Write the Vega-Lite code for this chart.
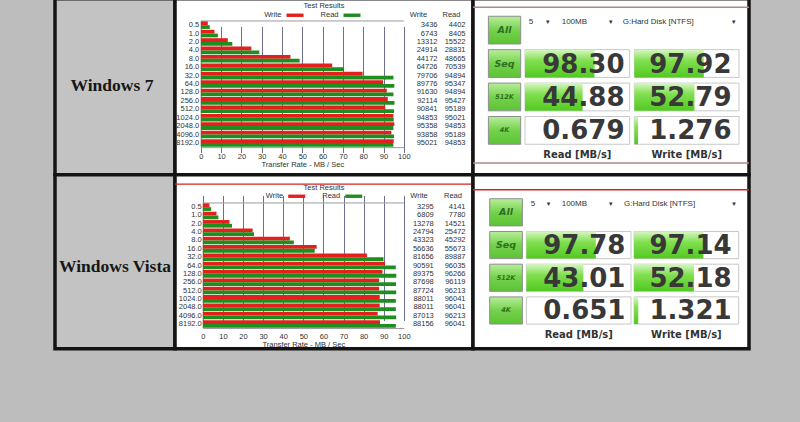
{
  "$schema": "https://vega.github.io/schema/vega-lite/v6.json",
  "background": "#bdbdbd",
  "padding": {"left": 53, "top": -3.25, "right": 49.5, "bottom": 71.75},
  "datasets": {
    "labels": [{"os": "Windows 7"}, {"os": "Windows Vista"}],
    "atto": [
      {"os": "Windows 7", "size": "0.5", "series": "Write", "value": 3436}, {"os": "Windows 7", "size": "0.5", "series": "Read", "value": 4402},
      {"os": "Windows 7", "size": "1.0", "series": "Write", "value": 6743}, {"os": "Windows 7", "size": "1.0", "series": "Read", "value": 8405},
      {"os": "Windows 7", "size": "2.0", "series": "Write", "value": 13312}, {"os": "Windows 7", "size": "2.0", "series": "Read", "value": 15522},
      {"os": "Windows 7", "size": "4.0", "series": "Write", "value": 24914}, {"os": "Windows 7", "size": "4.0", "series": "Read", "value": 28831},
      {"os": "Windows 7", "size": "8.0", "series": "Write", "value": 44172}, {"os": "Windows 7", "size": "8.0", "series": "Read", "value": 48665},
      {"os": "Windows 7", "size": "16.0", "series": "Write", "value": 64726}, {"os": "Windows 7", "size": "16.0", "series": "Read", "value": 70539},
      {"os": "Windows 7", "size": "32.0", "series": "Write", "value": 79706}, {"os": "Windows 7", "size": "32.0", "series": "Read", "value": 94894},
      {"os": "Windows 7", "size": "64.0", "series": "Write", "value": 89776}, {"os": "Windows 7", "size": "64.0", "series": "Read", "value": 95347},
      {"os": "Windows 7", "size": "128.0", "series": "Write", "value": 91630}, {"os": "Windows 7", "size": "128.0", "series": "Read", "value": 94894},
      {"os": "Windows 7", "size": "256.0", "series": "Write", "value": 92114}, {"os": "Windows 7", "size": "256.0", "series": "Read", "value": 95427},
      {"os": "Windows 7", "size": "512.0", "series": "Write", "value": 90841}, {"os": "Windows 7", "size": "512.0", "series": "Read", "value": 95189},
      {"os": "Windows 7", "size": "1024.0", "series": "Write", "value": 94853}, {"os": "Windows 7", "size": "1024.0", "series": "Read", "value": 95021},
      {"os": "Windows 7", "size": "2048.0", "series": "Write", "value": 95358}, {"os": "Windows 7", "size": "2048.0", "series": "Read", "value": 94853},
      {"os": "Windows 7", "size": "4096.0", "series": "Write", "value": 93858}, {"os": "Windows 7", "size": "4096.0", "series": "Read", "value": 95189},
      {"os": "Windows 7", "size": "8192.0", "series": "Write", "value": 95021}, {"os": "Windows 7", "size": "8192.0", "series": "Read", "value": 94853},
      {"os": "Windows Vista", "size": "0.5", "series": "Write", "value": 3295}, {"os": "Windows Vista", "size": "0.5", "series": "Read", "value": 4141},
      {"os": "Windows Vista", "size": "1.0", "series": "Write", "value": 6809}, {"os": "Windows Vista", "size": "1.0", "series": "Read", "value": 7780},
      {"os": "Windows Vista", "size": "2.0", "series": "Write", "value": 13278}, {"os": "Windows Vista", "size": "2.0", "series": "Read", "value": 14521},
      {"os": "Windows Vista", "size": "4.0", "series": "Write", "value": 24794}, {"os": "Windows Vista", "size": "4.0", "series": "Read", "value": 25472},
      {"os": "Windows Vista", "size": "8.0", "series": "Write", "value": 43323}, {"os": "Windows Vista", "size": "8.0", "series": "Read", "value": 45292},
      {"os": "Windows Vista", "size": "16.0", "series": "Write", "value": 56636}, {"os": "Windows Vista", "size": "16.0", "series": "Read", "value": 55673},
      {"os": "Windows Vista", "size": "32.0", "series": "Write", "value": 81656}, {"os": "Windows Vista", "size": "32.0", "series": "Read", "value": 89887},
      {"os": "Windows Vista", "size": "64.0", "series": "Write", "value": 90591}, {"os": "Windows Vista", "size": "64.0", "series": "Read", "value": 96035},
      {"os": "Windows Vista", "size": "128.0", "series": "Write", "value": 89375}, {"os": "Windows Vista", "size": "128.0", "series": "Read", "value": 96266},
      {"os": "Windows Vista", "size": "256.0", "series": "Write", "value": 87698}, {"os": "Windows Vista", "size": "256.0", "series": "Read", "value": 96119},
      {"os": "Windows Vista", "size": "512.0", "series": "Write", "value": 87724}, {"os": "Windows Vista", "size": "512.0", "series": "Read", "value": 96213},
      {"os": "Windows Vista", "size": "1024.0", "series": "Write", "value": 88011}, {"os": "Windows Vista", "size": "1024.0", "series": "Read", "value": 96041},
      {"os": "Windows Vista", "size": "2048.0", "series": "Write", "value": 88011}, {"os": "Windows Vista", "size": "2048.0", "series": "Read", "value": 96041},
      {"os": "Windows Vista", "size": "4096.0", "series": "Write", "value": 87013}, {"os": "Windows Vista", "size": "4096.0", "series": "Read", "value": 96213},
      {"os": "Windows Vista", "size": "8192.0", "series": "Write", "value": 88156}, {"os": "Windows Vista", "size": "8192.0", "series": "Read", "value": 96041}
    ],
    "cdm": [
      {"os": "Windows 7", "test": "Seq", "metric": "Read", "value": 98.30}, {"os": "Windows 7", "test": "Seq", "metric": "Write", "value": 97.92},
      {"os": "Windows 7", "test": "512K", "metric": "Read", "value": 44.88}, {"os": "Windows 7", "test": "512K", "metric": "Write", "value": 52.79},
      {"os": "Windows 7", "test": "4K", "metric": "Read", "value": 0.679}, {"os": "Windows 7", "test": "4K", "metric": "Write", "value": 1.276},
      {"os": "Windows Vista", "test": "Seq", "metric": "Read", "value": 97.78}, {"os": "Windows Vista", "test": "Seq", "metric": "Write", "value": 97.14},
      {"os": "Windows Vista", "test": "512K", "metric": "Read", "value": 43.01}, {"os": "Windows Vista", "test": "512K", "metric": "Write", "value": 52.18},
      {"os": "Windows Vista", "test": "4K", "metric": "Read", "value": 0.651}, {"os": "Windows Vista", "test": "4K", "metric": "Write", "value": 1.321}
    ],
    "buttons": [{"test": "All"}, {"test": "Seq"}, {"test": "512K"}, {"test": "4K"}],
    "cdmHeader": [
      {"os": "Windows 7", "runs": "5", "size": "100MB", "drive": "G:Hard Disk [NTFS]"},
      {"os": "Windows Vista", "runs": "5", "size": "100MB", "drive": "G:Hard Disk [NTFS]"}
    ]
  },
  "columns": 3,
  "spacing": 0,
  "bounds": "flush",
  "align": "each",
  "resolve": {"scale": {"x": "independent", "y": "independent", "color": "independent"}, "legend": {"color": "independent"}, "axis": {"x": "independent", "y": "independent"}},
  "concat": [
    {
      "width": 120, "height": 176,
      "view": {"fill": "#c3c3c3", "stroke": "#141414", "strokeWidth": 3.5},
      "data": {"name": "labels"},
      "transform": [{"filter": "datum.os == 'Windows 7'"}],
      "mark": {"type": "text", "font": "Liberation Serif", "fontWeight": "bold", "fontSize": 17.5, "color": "#161616", "dy": -0.5, "dx": -3},
      "encoding": {"text": {"field": "os", "type": "nominal"}}
    },
    {
      "width": 298, "height": 176,
      "view": {"fill": "#ffffff", "stroke": "#141414", "strokeWidth": 3.5},
      "title": {"text": "Test Results", "anchor": "middle", "offset": -15, "baseline": "middle", "fontSize": 7.5, "font": "Liberation Sans", "fontWeight": "normal", "color": "#333333"},
      "data": {"name": "atto"},
      "transform": [{"filter": "datum.os == 'Windows 7'"}],
      "layer": [
        {
          "transform": [{"filter": "datum.size == '0.5' && datum.series == 'Write'"}],
          "mark": {"type": "rule", "color": "#9a9a9a", "strokeWidth": 1},
          "encoding": {
            "x": {"datum": 0, "type": "quantitative", "scale": {"domain": [0, 100000], "range": [25.8, 228.8], "nice": false, "zero": false},
              "axis": {"values": [0, 10000, 20000, 30000, 40000, 50000, 60000, 70000, 80000, 90000, 100000], "labelExpr": "datum.value / 1000", "grid": true, "gridColor": "#6e6e8e", "gridWidth": 1, "domainColor": "#9a9a9a", "ticks": false, "offset": -27.6, "labelPadding": 5, "labelFontSize": 7.5, "labelColor": "#333333", "labelFlush": false, "labelOverlap": false, "title": "Transfer Rate - MB / Sec", "titleFontSize": 7.5, "titleFontWeight": "normal", "titleColor": "#333333", "titlePadding": 1}},
            "x2": {"datum": 100000},
            "y": {"field": "size", "type": "ordinal", "bandPosition": -0.055, "scale": {"domain": ["0.5","1.0","2.0","4.0","8.0","16.0","32.0","64.0","128.0","256.0","512.0","1024.0","2048.0","4096.0","8192.0"], "range": [22.2, 148.4], "paddingInner": 0.1, "paddingOuter": 0.05},
              "axis": {"orient": "left", "offset": -25.8, "labelPadding": 2, "domainColor": "#9a9a9a", "ticks": false, "grid": false, "labelFontSize": 7.5, "labelColor": "#333333", "title": null}}
          }
        },
        {
          "mark": {"type": "bar"},
          "encoding": {
            "x": {"field": "value", "type": "quantitative", "scale": {"domain": [0, 100000], "range": [25.8, 228.8], "nice": false, "zero": false},
              "axis": {"values": [0, 10000, 20000, 30000, 40000, 50000, 60000, 70000, 80000, 90000, 100000], "labelExpr": "datum.value / 1000", "grid": true, "gridColor": "#6e6e8e", "gridWidth": 1, "domainColor": "#9a9a9a", "ticks": false, "offset": -27.6, "labelPadding": 5, "labelFontSize": 7.5, "labelColor": "#333333", "labelFlush": false, "labelOverlap": false, "title": "Transfer Rate - MB / Sec", "titleFontSize": 7.5, "titleFontWeight": "normal", "titleColor": "#333333", "titlePadding": 1}},
            "y": {"field": "size", "type": "ordinal", "scale": {"domain": ["0.5","1.0","2.0","4.0","8.0","16.0","32.0","64.0","128.0","256.0","512.0","1024.0","2048.0","4096.0","8192.0"], "range": [22.2, 148.4], "paddingInner": 0.1, "paddingOuter": 0.05},
              "axis": {"orient": "left", "offset": -25.8, "labelPadding": 2, "domainColor": "#9a9a9a", "ticks": false, "grid": false, "labelFontSize": 7.5, "labelColor": "#333333", "title": null}},
            "yOffset": {"field": "series", "type": "nominal", "scale": {"domain": ["Write", "Read"]}},
            "color": {"field": "series", "type": "nominal", "scale": {"domain": ["Write", "Read"], "range": ["#e3201e", "#1e8e1e"]},
              "legend": {"orient": "none", "legendX": 111.5, "legendY": 8, "direction": "horizontal", "title": null, "symbolType": "M-1,-0.2H1V0.2H-1Z", "symbolSize": 289, "symbolStrokeWidth": 0, "labelFontSize": 7.5, "labelFont": "Liberation Sans", "labelColor": "#333333", "labelAlign": "right", "labelOffset": -22, "columnPadding": 17, "padding": 0}}
          }
        },
        {
          "transform": [{"filter": "datum.series == 'Write'"}],
          "mark": {"type": "text", "align": "right", "baseline": "middle", "fontSize": 7.5, "font": "Liberation Sans", "color": "#333333"},
          "encoding": {
            "x": {"datum": 116600, "type": "quantitative", "scale": {"domain": [0, 100000], "range": [25.8, 228.8], "nice": false, "zero": false},
              "axis": {"values": [0, 10000, 20000, 30000, 40000, 50000, 60000, 70000, 80000, 90000, 100000], "labelExpr": "datum.value / 1000", "grid": true, "gridColor": "#6e6e8e", "gridWidth": 1, "domainColor": "#9a9a9a", "ticks": false, "offset": -27.6, "labelPadding": 5, "labelFontSize": 7.5, "labelColor": "#333333", "labelFlush": false, "labelOverlap": false, "title": "Transfer Rate - MB / Sec", "titleFontSize": 7.5, "titleFontWeight": "normal", "titleColor": "#333333", "titlePadding": 1}},
            "y": {"field": "size", "type": "ordinal"},
            "text": {"field": "value", "type": "quantitative", "format": "d"}
          }
        },
        {
          "transform": [{"filter": "datum.series == 'Read'"}],
          "mark": {"type": "text", "align": "right", "baseline": "middle", "fontSize": 7.5, "font": "Liberation Sans", "color": "#333333"},
          "encoding": {
            "x": {"datum": 130400, "type": "quantitative", "scale": {"domain": [0, 100000], "range": [25.8, 228.8], "nice": false, "zero": false},
              "axis": {"values": [0, 10000, 20000, 30000, 40000, 50000, 60000, 70000, 80000, 90000, 100000], "labelExpr": "datum.value / 1000", "grid": true, "gridColor": "#6e6e8e", "gridWidth": 1, "domainColor": "#9a9a9a", "ticks": false, "offset": -27.6, "labelPadding": 5, "labelFontSize": 7.5, "labelColor": "#333333", "labelFlush": false, "labelOverlap": false, "title": "Transfer Rate - MB / Sec", "titleFontSize": 7.5, "titleFontWeight": "normal", "titleColor": "#333333", "titlePadding": 1}},
            "y": {"field": "size", "type": "ordinal"},
            "text": {"field": "value", "type": "quantitative", "format": "d"}
          }
        },
        {
          "transform": [{"filter": "datum.size == '0.5' && datum.series == 'Write'"}],
          "mark": {"type": "text", "align": "center", "baseline": "middle", "fontSize": 7.5, "font": "Liberation Sans", "color": "#333333", "dy": -10},
          "encoding": {
            "x": {"datum": 107200, "type": "quantitative", "scale": {"domain": [0, 100000], "range": [25.8, 228.8], "nice": false, "zero": false},
              "axis": {"values": [0, 10000, 20000, 30000, 40000, 50000, 60000, 70000, 80000, 90000, 100000], "labelExpr": "datum.value / 1000", "grid": true, "gridColor": "#6e6e8e", "gridWidth": 1, "domainColor": "#9a9a9a", "ticks": false, "offset": -27.6, "labelPadding": 5, "labelFontSize": 7.5, "labelColor": "#333333", "labelFlush": false, "labelOverlap": false, "title": "Transfer Rate - MB / Sec", "titleFontSize": 7.5, "titleFontWeight": "normal", "titleColor": "#333333", "titlePadding": 1}},
            "y": {"field": "size", "type": "ordinal"},
            "text": {"field": "series", "type": "nominal"}
          }
        },
        {
          "transform": [{"filter": "datum.size == '0.5' && datum.series == 'Read'"}],
          "mark": {"type": "text", "align": "center", "baseline": "middle", "fontSize": 7.5, "font": "Liberation Sans", "color": "#333333", "dy": -10},
          "encoding": {
            "x": {"datum": 123500, "type": "quantitative", "scale": {"domain": [0, 100000], "range": [25.8, 228.8], "nice": false, "zero": false},
              "axis": {"values": [0, 10000, 20000, 30000, 40000, 50000, 60000, 70000, 80000, 90000, 100000], "labelExpr": "datum.value / 1000", "grid": true, "gridColor": "#6e6e8e", "gridWidth": 1, "domainColor": "#9a9a9a", "ticks": false, "offset": -27.6, "labelPadding": 5, "labelFontSize": 7.5, "labelColor": "#333333", "labelFlush": false, "labelOverlap": false, "title": "Transfer Rate - MB / Sec", "titleFontSize": 7.5, "titleFontWeight": "normal", "titleColor": "#333333", "titlePadding": 1}},
            "y": {"field": "size", "type": "ordinal"},
            "text": {"field": "series", "type": "nominal"}
          }
        }
      ]
    },
    {
      "width": 276, "height": 176,
      "view": {"fill": "#ffffff", "stroke": "#141414", "strokeWidth": 3.5},
      "resolve": {"scale": {"x": "independent"}, "axis": {"x": "independent"}},
      "layer": [
        {
          "data": {"name": "buttons"},
          "transform": [{"filter": "datum.test == 'All'"}],
          "mark": {"type": "rule", "color": "#b08a86", "strokeWidth": 1.5},
          "encoding": {"y": {"field": "test", "type": "nominal", "bandPosition": -0.324, "scale": {"domain": ["All", "Seq", "512K", "4K"], "range": [17.5, 145.5], "paddingInner": 0.17, "paddingOuter": 0}, "axis": null}}
        },
        {
          "data": {"name": "buttons"},
          "transform": [{"filter": "datum.test == '4K'"}],
          "mark": {"type": "rule", "color": "#b08a86", "strokeWidth": 1.5},
          "encoding": {"y": {"field": "test", "type": "nominal", "bandPosition": 1.674, "scale": {"domain": ["All", "Seq", "512K", "4K"], "range": [17.5, 145.5], "paddingInner": 0.17, "paddingOuter": 0}, "axis": null}}
        },
        {
          "data": {"name": "buttons"},
          "layer": [
            {
              "mark": {"type": "bar", "fill": {"gradient": "linear", "x1": 0, "y1": 0, "x2": 0, "y2": 1, "stops": [{"offset": 0, "color": "#b8ee9a"}, {"offset": 0.5, "color": "#74d24c"}, {"offset": 1, "color": "#5cc234"}]}, "stroke": "#8e8e8e", "strokeWidth": 1},
              "encoding": {
                "x": {"datum": 0, "type": "quantitative", "scale": {"domain": [0, 1], "range": [15.4, 47.7], "nice": false, "zero": false}, "axis": null},
                "x2": {"datum": 1},
                "y": {"field": "test", "type": "nominal", "scale": {"domain": ["All", "Seq", "512K", "4K"], "range": [17.5, 145.5], "paddingInner": 0.17, "paddingOuter": 0}, "axis": null}
              }
            },
            {
              "mark": {"type": "text", "fontStyle": "italic", "fontWeight": "bold", "font": "DejaVu Sans", "color": "#2f6e22", "baseline": "middle", "align": "center"},
              "encoding": {
                "x": {"datum": 0.5, "type": "quantitative", "scale": {"domain": [0, 1], "range": [15.4, 47.7], "nice": false, "zero": false}, "axis": null},
                "y": {"field": "test", "type": "nominal", "scale": {"domain": ["All", "Seq", "512K", "4K"], "range": [17.5, 145.5], "paddingInner": 0.17, "paddingOuter": 0}, "axis": null},
                "text": {"field": "test", "type": "nominal"},
                "size": {"condition": {"test": "datum.test == '512K' || datum.test == '4K'", "value": 6.5}, "value": 9.5}
              }
            }
          ]
        },
        {
          "data": {"name": "cdm"},
          "transform": [{"filter": "datum.os == 'Windows 7'"}],
          "mark": {"type": "bar", "fill": "#ffffff", "stroke": "#c8c8c8", "strokeWidth": 1},
          "encoding": {
            "x": {"field": "metric", "type": "nominal", "scale": {"domain": ["Read", "Write"], "range": [52, 266], "paddingInner": 0.043, "paddingOuter": 0},
              "axis": {"orient": "bottom", "offset": -30.5, "labelPadding": 5, "labelExpr": "datum.label + ' [MB/s]'", "labelFont": "DejaVu Sans", "labelFontWeight": "bold", "labelFontSize": 10, "labelColor": "#333333", "labelAngle": 0, "domain": false, "ticks": false, "grid": false, "title": null}},
            "y": {"field": "test", "type": "nominal", "scale": {"domain": ["All", "Seq", "512K", "4K"], "range": [17.5, 145.5], "paddingInner": 0.17, "paddingOuter": 0}, "axis": null}
          }
        },
        {
          "data": {"name": "cdm"},
          "transform": [{"filter": "datum.os == 'Windows 7' && datum.metric == 'Read'"}],
          "mark": {"type": "bar", "fill": {"gradient": "linear", "x1": 0, "y1": 0, "x2": 0, "y2": 1, "stops": [{"offset": 0, "color": "#d6f7c2"}, {"offset": 0.4, "color": "#80df4e"}, {"offset": 1, "color": "#52c922"}]}},
          "encoding": {
            "x": {"field": "value", "type": "quantitative", "scale": {"type": "log", "domain": [1, 1000], "range": [52, 156.65], "clamp": true, "nice": false}, "axis": null},
            "x2": {"datum": 1},
            "y": {"field": "test", "type": "nominal", "scale": {"domain": ["All", "Seq", "512K", "4K"], "range": [17.5, 145.5], "paddingInner": 0.17, "paddingOuter": 0}, "axis": null}
          }
        },
        {
          "data": {"name": "cdm"},
          "transform": [{"filter": "datum.os == 'Windows 7' && datum.metric == 'Write'"}],
          "mark": {"type": "bar", "fill": {"gradient": "linear", "x1": 0, "y1": 0, "x2": 0, "y2": 1, "stops": [{"offset": 0, "color": "#d6f7c2"}, {"offset": 0.4, "color": "#80df4e"}, {"offset": 1, "color": "#52c922"}]}},
          "encoding": {
            "x": {"field": "value", "type": "quantitative", "scale": {"type": "log", "domain": [1, 1000], "range": [161.35, 266], "clamp": true, "nice": false}, "axis": null},
            "x2": {"datum": 1},
            "y": {"field": "test", "type": "nominal", "scale": {"domain": ["All", "Seq", "512K", "4K"], "range": [17.5, 145.5], "paddingInner": 0.17, "paddingOuter": 0}, "axis": null}
          }
        },
        {
          "layer": [
            {
              "data": {"name": "cdm"},
              "transform": [{"filter": "datum.os == 'Windows 7' && datum.value >= 10"}],
              "mark": {"type": "text", "align": "right", "baseline": "middle", "font": "DejaVu Sans", "fontWeight": "bold", "fontSize": 26, "color": "#383838", "dx": 46, "dy": 1},
              "encoding": {
                "x": {"field": "metric", "type": "nominal", "scale": {"domain": ["Read", "Write"], "range": [52, 266], "paddingInner": 0.043, "paddingOuter": 0}, "axis": null},
                "y": {"field": "test", "type": "nominal", "scale": {"domain": ["All", "Seq", "512K", "4K"], "range": [17.5, 145.5], "paddingInner": 0.17, "paddingOuter": 0}, "axis": null},
                "text": {"field": "value", "type": "quantitative", "format": ".2f"}
              }
            },
            {
              "data": {"name": "cdm"},
              "transform": [{"filter": "datum.os == 'Windows 7' && datum.value < 10"}],
              "mark": {"type": "text", "align": "right", "baseline": "middle", "font": "DejaVu Sans", "fontWeight": "bold", "fontSize": 26, "color": "#383838", "dx": 46, "dy": 1},
              "encoding": {
                "x": {"field": "metric", "type": "nominal", "scale": {"domain": ["Read", "Write"], "range": [52, 266], "paddingInner": 0.043, "paddingOuter": 0}, "axis": null},
                "y": {"field": "test", "type": "nominal", "scale": {"domain": ["All", "Seq", "512K", "4K"], "range": [17.5, 145.5], "paddingInner": 0.17, "paddingOuter": 0}, "axis": null},
                "text": {"field": "value", "type": "quantitative", "format": ".3f"}
              }
            }
          ]
        },
        {
          "data": {"name": "cdmHeader"},
          "transform": [{"filter": "datum.os == 'Windows 7'"}],
          "layer": [
            {
              "mark": {"type": "text", "align": "left", "baseline": "middle", "font": "Liberation Sans", "fontSize": 8, "color": "#333333", "dy": -7.9},
              "encoding": {
                "x": {"datum": 0.0173, "type": "quantitative", "scale": {"domain": [0, 1], "range": [52, 266], "nice": false, "zero": false}, "axis": null},
                "y": {"datum": "All", "type": "nominal", "scale": {"domain": ["All", "Seq", "512K", "4K"], "range": [17.5, 145.5], "paddingInner": 0.17, "paddingOuter": 0}, "axis": null},
                "text": {"field": "runs", "type": "nominal"}
              }
            },
            {
              "mark": {"type": "text", "align": "left", "baseline": "middle", "font": "Liberation Sans", "fontSize": 8, "color": "#333333", "dy": -7.9},
              "encoding": {
                "x": {"datum": 0.1715, "type": "quantitative", "scale": {"domain": [0, 1], "range": [52, 266], "nice": false, "zero": false}, "axis": null},
                "y": {"datum": "All", "type": "nominal", "scale": {"domain": ["All", "Seq", "512K", "4K"], "range": [17.5, 145.5], "paddingInner": 0.17, "paddingOuter": 0}, "axis": null},
                "text": {"field": "size", "type": "nominal"}
              }
            },
            {
              "mark": {"type": "text", "align": "left", "baseline": "middle", "font": "Liberation Sans", "fontSize": 8, "color": "#333333", "dy": -7.9},
              "encoding": {
                "x": {"datum": 0.4565, "type": "quantitative", "scale": {"domain": [0, 1], "range": [52, 266], "nice": false, "zero": false}, "axis": null},
                "y": {"datum": "All", "type": "nominal", "scale": {"domain": ["All", "Seq", "512K", "4K"], "range": [17.5, 145.5], "paddingInner": 0.17, "paddingOuter": 0}, "axis": null},
                "text": {"field": "drive", "type": "nominal"}
              }
            },
            {
              "mark": {"type": "text", "align": "center", "baseline": "middle", "font": "DejaVu Sans", "fontSize": 7, "color": "#333333", "text": "▾", "dy": -7.9},
              "encoding": {
                "x": {"datum": 0.106, "type": "quantitative", "scale": {"domain": [0, 1], "range": [52, 266], "nice": false, "zero": false}, "axis": null},
                "y": {"datum": "All", "type": "nominal", "scale": {"domain": ["All", "Seq", "512K", "4K"], "range": [17.5, 145.5], "paddingInner": 0.17, "paddingOuter": 0}, "axis": null}
              }
            },
            {
              "mark": {"type": "text", "align": "center", "baseline": "middle", "font": "DejaVu Sans", "fontSize": 7, "color": "#333333", "text": "▾", "dy": -7.9},
              "encoding": {
                "x": {"datum": 0.4005, "type": "quantitative", "scale": {"domain": [0, 1], "range": [52, 266], "nice": false, "zero": false}, "axis": null},
                "y": {"datum": "All", "type": "nominal", "scale": {"domain": ["All", "Seq", "512K", "4K"], "range": [17.5, 145.5], "paddingInner": 0.17, "paddingOuter": 0}, "axis": null}
              }
            },
            {
              "mark": {"type": "text", "align": "center", "baseline": "middle", "font": "DejaVu Sans", "fontSize": 7, "color": "#333333", "text": "▾", "dy": -7.9},
              "encoding": {
                "x": {"datum": 0.975, "type": "quantitative", "scale": {"domain": [0, 1], "range": [52, 266], "nice": false, "zero": false}, "axis": null},
                "y": {"datum": "All", "type": "nominal", "scale": {"domain": ["All", "Seq", "512K", "4K"], "range": [17.5, 145.5], "paddingInner": 0.17, "paddingOuter": 0}, "axis": null}
              }
            }
          ]
        }
      ]
    },
    {
      "width": 120, "height": 174,
      "view": {"fill": "#c3c3c3", "stroke": "#141414", "strokeWidth": 3.5},
      "data": {"name": "labels"},
      "transform": [{"filter": "datum.os == 'Windows Vista'"}],
      "mark": {"type": "text", "font": "Liberation Serif", "fontWeight": "bold", "fontSize": 17.5, "color": "#161616", "dy": 5},
      "encoding": {"text": {"field": "os", "type": "nominal"}}
    },
    {
      "width": 298, "height": 174,
      "view": {"fill": "#ffffff", "stroke": "#141414", "strokeWidth": 3.5},
      "title": {"text": "Test Results", "anchor": "middle", "offset": -21.1, "baseline": "middle", "fontSize": 7.5, "font": "Liberation Sans", "fontWeight": "normal", "color": "#333333"},
      "data": {"name": "atto"},
      "transform": [{"filter": "datum.os == 'Windows Vista'"}],
      "layer": [
        {
          "transform": [{"filter": "datum.size == '0.5' && datum.series == 'Write'"}],
          "mark": {"type": "rule", "color": "#d42424", "strokeWidth": 1.2},
          "encoding": {
            "y": {"field": "size", "type": "ordinal", "bandPosition": -2.574, "scale": {"domain": ["0.5","1.0","2.0","4.0","8.0","16.0","32.0","64.0","128.0","256.0","512.0","1024.0","2048.0","4096.0","8192.0"], "range": [28.2, 153.3], "paddingInner": 0.1, "paddingOuter": 0.05},
              "axis": {"orient": "left", "offset": -27.8, "labelPadding": 1.5, "domainColor": "#9a9a9a", "ticks": false, "grid": false, "labelFontSize": 7.5, "labelColor": "#333333", "title": null}}
          }
        },
        {
          "transform": [{"filter": "datum.size == '0.5' && datum.series == 'Write'"}],
          "mark": {"type": "rule", "color": "#9a9a9a", "strokeWidth": 1},
          "encoding": {
            "x": {"datum": 0, "type": "quantitative", "scale": {"domain": [0, 100000], "range": [27.8, 228.8], "nice": false, "zero": false},
              "axis": {"values": [0, 10000, 20000, 30000, 40000, 50000, 60000, 70000, 80000, 90000, 100000], "labelExpr": "datum.value / 1000", "grid": true, "gridColor": "#6e6e8e", "gridWidth": 1, "domainColor": "#9a9a9a", "ticks": false, "offset": -20.7, "labelPadding": 4.3, "labelFontSize": 7.5, "labelColor": "#333333", "labelFlush": false, "labelOverlap": false, "title": "Transfer Rate - MB / Sec", "titleFontSize": 7.5, "titleFontWeight": "normal", "titleColor": "#333333", "titlePadding": 1}},
            "x2": {"datum": 100000},
            "y": {"field": "size", "type": "ordinal", "bandPosition": -0.055, "scale": {"domain": ["0.5","1.0","2.0","4.0","8.0","16.0","32.0","64.0","128.0","256.0","512.0","1024.0","2048.0","4096.0","8192.0"], "range": [28.2, 153.3], "paddingInner": 0.1, "paddingOuter": 0.05},
              "axis": {"orient": "left", "offset": -27.8, "labelPadding": 1.5, "domainColor": "#9a9a9a", "ticks": false, "grid": false, "labelFontSize": 7.5, "labelColor": "#333333", "title": null}}
          }
        },
        {
          "mark": {"type": "bar"},
          "encoding": {
            "x": {"field": "value", "type": "quantitative", "scale": {"domain": [0, 100000], "range": [27.8, 228.8], "nice": false, "zero": false},
              "axis": {"values": [0, 10000, 20000, 30000, 40000, 50000, 60000, 70000, 80000, 90000, 100000], "labelExpr": "datum.value / 1000", "grid": true, "gridColor": "#6e6e8e", "gridWidth": 1, "domainColor": "#9a9a9a", "ticks": false, "offset": -20.7, "labelPadding": 4.3, "labelFontSize": 7.5, "labelColor": "#333333", "labelFlush": false, "labelOverlap": false, "title": "Transfer Rate - MB / Sec", "titleFontSize": 7.5, "titleFontWeight": "normal", "titleColor": "#333333", "titlePadding": 1}},
            "y": {"field": "size", "type": "ordinal", "scale": {"domain": ["0.5","1.0","2.0","4.0","8.0","16.0","32.0","64.0","128.0","256.0","512.0","1024.0","2048.0","4096.0","8192.0"], "range": [28.2, 153.3], "paddingInner": 0.1, "paddingOuter": 0.05},
              "axis": {"orient": "left", "offset": -27.8, "labelPadding": 1.5, "domainColor": "#9a9a9a", "ticks": false, "grid": false, "labelFontSize": 7.5, "labelColor": "#333333", "title": null}},
            "yOffset": {"field": "series", "type": "nominal", "scale": {"domain": ["Write", "Read"]}},
            "color": {"field": "series", "type": "nominal", "scale": {"domain": ["Write", "Read"], "range": ["#e3201e", "#1e8e1e"]},
              "legend": {"orient": "none", "legendX": 113.2, "legendY": 13, "direction": "horizontal", "title": null, "symbolType": "M-1,-0.2H1V0.2H-1Z", "symbolSize": 289, "symbolStrokeWidth": 0, "labelFontSize": 7.5, "labelFont": "Liberation Sans", "labelColor": "#333333", "labelAlign": "right", "labelOffset": -22, "columnPadding": 17, "padding": 0}}
          }
        },
        {
          "transform": [{"filter": "datum.series == 'Write'"}],
          "mark": {"type": "text", "align": "right", "baseline": "middle", "fontSize": 7.5, "font": "Liberation Sans", "color": "#333333"},
          "encoding": {
            "x": {"datum": 114900, "type": "quantitative", "scale": {"domain": [0, 100000], "range": [27.8, 228.8], "nice": false, "zero": false},
              "axis": {"values": [0, 10000, 20000, 30000, 40000, 50000, 60000, 70000, 80000, 90000, 100000], "labelExpr": "datum.value / 1000", "grid": true, "gridColor": "#6e6e8e", "gridWidth": 1, "domainColor": "#9a9a9a", "ticks": false, "offset": -20.7, "labelPadding": 4.3, "labelFontSize": 7.5, "labelColor": "#333333", "labelFlush": false, "labelOverlap": false, "title": "Transfer Rate - MB / Sec", "titleFontSize": 7.5, "titleFontWeight": "normal", "titleColor": "#333333", "titlePadding": 1}},
            "y": {"field": "size", "type": "ordinal"},
            "text": {"field": "value", "type": "quantitative", "format": "d"}
          }
        },
        {
          "transform": [{"filter": "datum.series == 'Read'"}],
          "mark": {"type": "text", "align": "right", "baseline": "middle", "fontSize": 7.5, "font": "Liberation Sans", "color": "#333333"},
          "encoding": {
            "x": {"datum": 130700, "type": "quantitative", "scale": {"domain": [0, 100000], "range": [27.8, 228.8], "nice": false, "zero": false},
              "axis": {"values": [0, 10000, 20000, 30000, 40000, 50000, 60000, 70000, 80000, 90000, 100000], "labelExpr": "datum.value / 1000", "grid": true, "gridColor": "#6e6e8e", "gridWidth": 1, "domainColor": "#9a9a9a", "ticks": false, "offset": -20.7, "labelPadding": 4.3, "labelFontSize": 7.5, "labelColor": "#333333", "labelFlush": false, "labelOverlap": false, "title": "Transfer Rate - MB / Sec", "titleFontSize": 7.5, "titleFontWeight": "normal", "titleColor": "#333333", "titlePadding": 1}},
            "y": {"field": "size", "type": "ordinal"},
            "text": {"field": "value", "type": "quantitative", "format": "d"}
          }
        },
        {
          "transform": [{"filter": "datum.size == '0.5' && datum.series == 'Write'"}],
          "mark": {"type": "text", "align": "center", "baseline": "middle", "fontSize": 7.5, "font": "Liberation Sans", "color": "#333333", "dy": -11.3},
          "encoding": {
            "x": {"datum": 107560, "type": "quantitative", "scale": {"domain": [0, 100000], "range": [27.8, 228.8], "nice": false, "zero": false},
              "axis": {"values": [0, 10000, 20000, 30000, 40000, 50000, 60000, 70000, 80000, 90000, 100000], "labelExpr": "datum.value / 1000", "grid": true, "gridColor": "#6e6e8e", "gridWidth": 1, "domainColor": "#9a9a9a", "ticks": false, "offset": -20.7, "labelPadding": 4.3, "labelFontSize": 7.5, "labelColor": "#333333", "labelFlush": false, "labelOverlap": false, "title": "Transfer Rate - MB / Sec", "titleFontSize": 7.5, "titleFontWeight": "normal", "titleColor": "#333333", "titlePadding": 1}},
            "y": {"field": "size", "type": "ordinal"},
            "text": {"field": "series", "type": "nominal"}
          }
        },
        {
          "transform": [{"filter": "datum.size == '0.5' && datum.series == 'Read'"}],
          "mark": {"type": "text", "align": "center", "baseline": "middle", "fontSize": 7.5, "font": "Liberation Sans", "color": "#333333", "dy": -11.3},
          "encoding": {
            "x": {"datum": 124480, "type": "quantitative", "scale": {"domain": [0, 100000], "range": [27.8, 228.8], "nice": false, "zero": false},
              "axis": {"values": [0, 10000, 20000, 30000, 40000, 50000, 60000, 70000, 80000, 90000, 100000], "labelExpr": "datum.value / 1000", "grid": true, "gridColor": "#6e6e8e", "gridWidth": 1, "domainColor": "#9a9a9a", "ticks": false, "offset": -20.7, "labelPadding": 4.3, "labelFontSize": 7.5, "labelColor": "#333333", "labelFlush": false, "labelOverlap": false, "title": "Transfer Rate - MB / Sec", "titleFontSize": 7.5, "titleFontWeight": "normal", "titleColor": "#333333", "titlePadding": 1}},
            "y": {"field": "size", "type": "ordinal"},
            "text": {"field": "series", "type": "nominal"}
          }
        }
      ]
    },
    {
      "width": 276, "height": 174,
      "view": {"fill": "#ffffff", "stroke": "#141414", "strokeWidth": 3.5},
      "resolve": {"scale": {"x": "independent"}, "axis": {"x": "independent"}},
      "layer": [
        {
          "data": {"name": "buttons"},
          "transform": [{"filter": "datum.test == 'All'"}],
          "mark": {"type": "rule", "color": "#d42424", "strokeWidth": 1.5},
          "encoding": {"y": {"field": "test", "type": "nominal", "bandPosition": -0.331, "scale": {"domain": ["All", "Seq", "512K", "4K"], "range": [24, 149.3], "paddingInner": 0.17, "paddingOuter": 0}, "axis": null}}
        },
        {
          "data": {"name": "buttons"},
          "layer": [
            {
              "mark": {"type": "bar", "fill": {"gradient": "linear", "x1": 0, "y1": 0, "x2": 0, "y2": 1, "stops": [{"offset": 0, "color": "#b8ee9a"}, {"offset": 0.5, "color": "#74d24c"}, {"offset": 1, "color": "#5cc234"}]}, "stroke": "#8e8e8e", "strokeWidth": 1},
              "encoding": {
                "x": {"datum": 0, "type": "quantitative", "scale": {"domain": [0, 1], "range": [16.7, 49.4], "nice": false, "zero": false}, "axis": null},
                "x2": {"datum": 1},
                "y": {"field": "test", "type": "nominal", "scale": {"domain": ["All", "Seq", "512K", "4K"], "range": [24, 149.3], "paddingInner": 0.17, "paddingOuter": 0}, "axis": null}
              }
            },
            {
              "mark": {"type": "text", "fontStyle": "italic", "fontWeight": "bold", "font": "DejaVu Sans", "color": "#2f6e22", "baseline": "middle", "align": "center"},
              "encoding": {
                "x": {"datum": 0.5, "type": "quantitative", "scale": {"domain": [0, 1], "range": [16.7, 49.4], "nice": false, "zero": false}, "axis": null},
                "y": {"field": "test", "type": "nominal", "scale": {"domain": ["All", "Seq", "512K", "4K"], "range": [24, 149.3], "paddingInner": 0.17, "paddingOuter": 0}, "axis": null},
                "text": {"field": "test", "type": "nominal"},
                "size": {"condition": {"test": "datum.test == '512K' || datum.test == '4K'", "value": 6.5}, "value": 9.5}
              }
            }
          ]
        },
        {
          "data": {"name": "cdm"},
          "transform": [{"filter": "datum.os == 'Windows Vista'"}],
          "mark": {"type": "bar", "fill": "#ffffff", "stroke": "#c8c8c8", "strokeWidth": 1},
          "encoding": {
            "x": {"field": "metric", "type": "nominal", "scale": {"domain": ["Read", "Write"], "range": [53.4, 265.7], "paddingInner": 0.028, "paddingOuter": 0},
              "axis": {"orient": "bottom", "offset": -24.7, "labelPadding": 5, "labelExpr": "datum.label + ' [MB/s]'", "labelFont": "DejaVu Sans", "labelFontWeight": "bold", "labelFontSize": 10, "labelColor": "#333333", "labelAngle": 0, "domain": false, "ticks": false, "grid": false, "title": null}},
            "y": {"field": "test", "type": "nominal", "scale": {"domain": ["All", "Seq", "512K", "4K"], "range": [24, 149.3], "paddingInner": 0.17, "paddingOuter": 0}, "axis": null}
          }
        },
        {
          "data": {"name": "cdm"},
          "transform": [{"filter": "datum.os == 'Windows Vista' && datum.metric == 'Read'"}],
          "mark": {"type": "bar", "fill": {"gradient": "linear", "x1": 0, "y1": 0, "x2": 0, "y2": 1, "stops": [{"offset": 0, "color": "#d6f7c2"}, {"offset": 0.4, "color": "#80df4e"}, {"offset": 1, "color": "#52c922"}]}},
          "encoding": {
            "x": {"field": "value", "type": "quantitative", "scale": {"type": "log", "domain": [1, 1000], "range": [53.4, 158.05], "clamp": true, "nice": false}, "axis": null},
            "x2": {"datum": 1},
            "y": {"field": "test", "type": "nominal", "scale": {"domain": ["All", "Seq", "512K", "4K"], "range": [24, 149.3], "paddingInner": 0.17, "paddingOuter": 0}, "axis": null}
          }
        },
        {
          "data": {"name": "cdm"},
          "transform": [{"filter": "datum.os == 'Windows Vista' && datum.metric == 'Write'"}],
          "mark": {"type": "bar", "fill": {"gradient": "linear", "x1": 0, "y1": 0, "x2": 0, "y2": 1, "stops": [{"offset": 0, "color": "#d6f7c2"}, {"offset": 0.4, "color": "#80df4e"}, {"offset": 1, "color": "#52c922"}]}},
          "encoding": {
            "x": {"field": "value", "type": "quantitative", "scale": {"type": "log", "domain": [1, 1000], "range": [161.05, 265.7], "clamp": true, "nice": false}, "axis": null},
            "x2": {"datum": 1},
            "y": {"field": "test", "type": "nominal", "scale": {"domain": ["All", "Seq", "512K", "4K"], "range": [24, 149.3], "paddingInner": 0.17, "paddingOuter": 0}, "axis": null}
          }
        },
        {
          "layer": [
            {
              "data": {"name": "cdm"},
              "transform": [{"filter": "datum.os == 'Windows Vista' && datum.value >= 10"}],
              "mark": {"type": "text", "align": "right", "baseline": "middle", "font": "DejaVu Sans", "fontWeight": "bold", "fontSize": 26, "color": "#383838", "dx": 46, "dy": 1},
              "encoding": {
                "x": {"field": "metric", "type": "nominal", "scale": {"domain": ["Read", "Write"], "range": [53.4, 265.7], "paddingInner": 0.028, "paddingOuter": 0}, "axis": null},
                "y": {"field": "test", "type": "nominal", "scale": {"domain": ["All", "Seq", "512K", "4K"], "range": [24, 149.3], "paddingInner": 0.17, "paddingOuter": 0}, "axis": null},
                "text": {"field": "value", "type": "quantitative", "format": ".2f"}
              }
            },
            {
              "data": {"name": "cdm"},
              "transform": [{"filter": "datum.os == 'Windows Vista' && datum.value < 10"}],
              "mark": {"type": "text", "align": "right", "baseline": "middle", "font": "DejaVu Sans", "fontWeight": "bold", "fontSize": 26, "color": "#383838", "dx": 46, "dy": 1},
              "encoding": {
                "x": {"field": "metric", "type": "nominal", "scale": {"domain": ["Read", "Write"], "range": [53.4, 265.7], "paddingInner": 0.028, "paddingOuter": 0}, "axis": null},
                "y": {"field": "test", "type": "nominal", "scale": {"domain": ["All", "Seq", "512K", "4K"], "range": [24, 149.3], "paddingInner": 0.17, "paddingOuter": 0}, "axis": null},
                "text": {"field": "value", "type": "quantitative", "format": ".3f"}
              }
            }
          ]
        },
        {
          "data": {"name": "cdmHeader"},
          "transform": [{"filter": "datum.os == 'Windows Vista'"}],
          "layer": [
            {
              "mark": {"type": "text", "align": "left", "baseline": "middle", "font": "Liberation Sans", "fontSize": 8, "color": "#333333", "dy": -8.3},
              "encoding": {
                "x": {"datum": 0.0203, "type": "quantitative", "scale": {"domain": [0, 1], "range": [53.4, 265.7], "nice": false, "zero": false}, "axis": null},
                "y": {"datum": "All", "type": "nominal", "scale": {"domain": ["All", "Seq", "512K", "4K"], "range": [24, 149.3], "paddingInner": 0.17, "paddingOuter": 0}, "axis": null},
                "text": {"field": "runs", "type": "nominal"}
              }
            },
            {
              "mark": {"type": "text", "align": "left", "baseline": "middle", "font": "Liberation Sans", "fontSize": 8, "color": "#333333", "dy": -8.3},
              "encoding": {
                "x": {"datum": 0.1663, "type": "quantitative", "scale": {"domain": [0, 1], "range": [53.4, 265.7], "nice": false, "zero": false}, "axis": null},
                "y": {"datum": "All", "type": "nominal", "scale": {"domain": ["All", "Seq", "512K", "4K"], "range": [24, 149.3], "paddingInner": 0.17, "paddingOuter": 0}, "axis": null},
                "text": {"field": "size", "type": "nominal"}
              }
            },
            {
              "mark": {"type": "text", "align": "left", "baseline": "middle", "font": "Liberation Sans", "fontSize": 8, "color": "#333333", "dy": -8.3},
              "encoding": {
                "x": {"datum": 0.4597, "type": "quantitative", "scale": {"domain": [0, 1], "range": [53.4, 265.7], "nice": false, "zero": false}, "axis": null},
                "y": {"datum": "All", "type": "nominal", "scale": {"domain": ["All", "Seq", "512K", "4K"], "range": [24, 149.3], "paddingInner": 0.17, "paddingOuter": 0}, "axis": null},
                "text": {"field": "drive", "type": "nominal"}
              }
            },
            {
              "mark": {"type": "text", "align": "center", "baseline": "middle", "font": "DejaVu Sans", "fontSize": 7, "color": "#333333", "text": "▾", "dy": -8.3},
              "encoding": {
                "x": {"datum": 0.1036, "type": "quantitative", "scale": {"domain": [0, 1], "range": [53.4, 265.7], "nice": false, "zero": false}, "axis": null},
                "y": {"datum": "All", "type": "nominal", "scale": {"domain": ["All", "Seq", "512K", "4K"], "range": [24, 149.3], "paddingInner": 0.17, "paddingOuter": 0}, "axis": null}
              }
            },
            {
              "mark": {"type": "text", "align": "center", "baseline": "middle", "font": "DejaVu Sans", "fontSize": 7, "color": "#333333", "text": "▾", "dy": -8.3},
              "encoding": {
                "x": {"datum": 0.397, "type": "quantitative", "scale": {"domain": [0, 1], "range": [53.4, 265.7], "nice": false, "zero": false}, "axis": null},
                "y": {"datum": "All", "type": "nominal", "scale": {"domain": ["All", "Seq", "512K", "4K"], "range": [24, 149.3], "paddingInner": 0.17, "paddingOuter": 0}, "axis": null}
              }
            },
            {
              "mark": {"type": "text", "align": "center", "baseline": "middle", "font": "DejaVu Sans", "fontSize": 7, "color": "#333333", "text": "▾", "dy": -8.3},
              "encoding": {
                "x": {"datum": 0.978, "type": "quantitative", "scale": {"domain": [0, 1], "range": [53.4, 265.7], "nice": false, "zero": false}, "axis": null},
                "y": {"datum": "All", "type": "nominal", "scale": {"domain": ["All", "Seq", "512K", "4K"], "range": [24, 149.3], "paddingInner": 0.17, "paddingOuter": 0}, "axis": null}
              }
            }
          ]
        }
      ]
    }
  ],
  "config": {
    "view": {"stroke": null},
    "font": "Liberation Sans",
    "axis": {"ticks": false, "labelFont": "Liberation Sans", "titleFont": "Liberation Sans"},
    "title": {"fontWeight": "normal"}
  }
}
